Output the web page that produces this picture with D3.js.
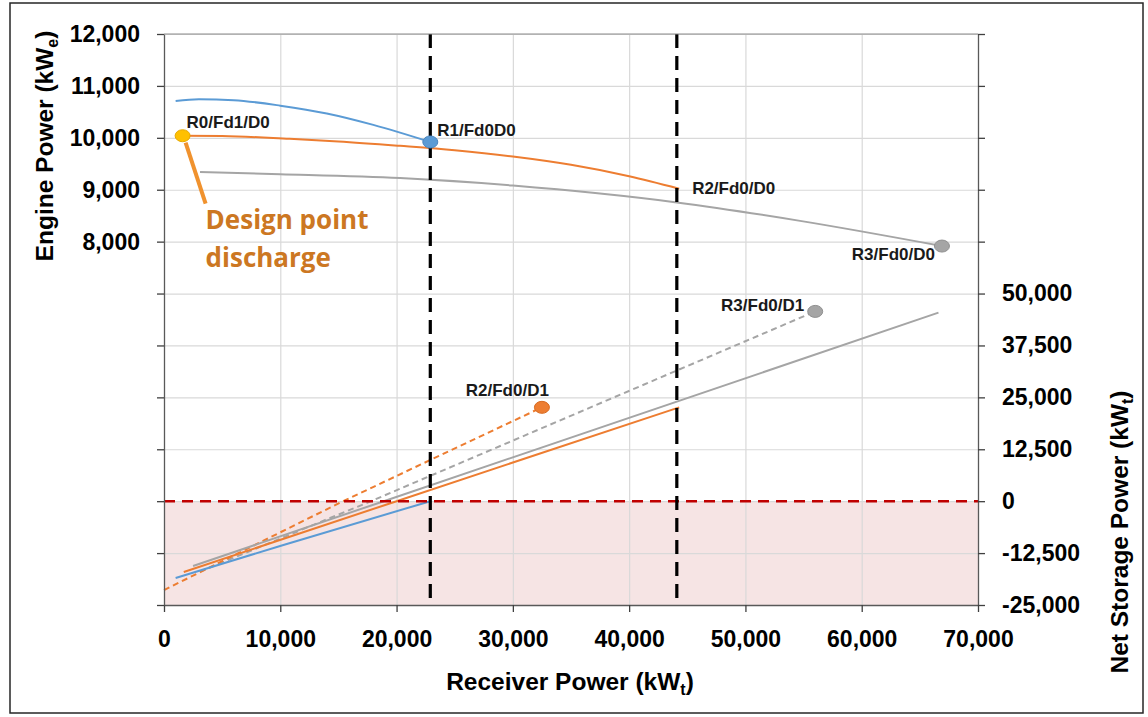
<!DOCTYPE html>
<html>
<head>
<meta charset="utf-8">
<script src="https://cdn.jsdelivr.net/npm/d3@7"></script>
<style>
  body { margin: 0; background: #fff; }
  svg { font-family: "Liberation Sans", Arial, sans-serif; }
</style>
</head>
<body>
<svg id="chart" width="1148" height="717"></svg>
<script>
// ticks
const receiverTicks = [0, 10000, 20000, 30000, 40000, 50000, 60000, 70000];
const engineTicks = [1000, 2000, 3000, 4000, 5000, 6000, 7000, 8000, 9000, 10000, 11000, 12000];
const engineLabelled = [8000, 9000, 10000, 11000, 12000];
const storageTicks = [-25000, -12500, 0, 12500, 25000, 37500, 50000, 62500, 75000, 87500, 100000, 112500];
const storageLabelled = [-25000, -12500, 0, 12500, 25000, 37500, 50000];

// engine power (kWe) against receiver power (kWt)
const engineR1 = [[1000, 10710], [3000, 10745], [6000, 10725], [10000, 10620], [14000, 10470], [18000, 10250], [22900, 9920]];
const engineR2 = [[1600, 10040], [5000, 10035], [10800, 9980], [15000, 9930], [20300, 9845], [25000, 9760], [30000, 9640], [35000, 9480], [40000, 9260], [44300, 9020]];
const engineR3 = [[3100, 9340], [10000, 9300], [20300, 9225], [30000, 9080], [44100, 8755], [54700, 8400], [66900, 7915]];

// net storage power (kWt) against receiver power (kWt)
const storageR1 = [[1000, -18500], [10200, -10600], [22900, 0]];
const storageR2 = [[1700, -17050], [20000, 0], [44300, 22600]];
const storageR3 = [[2500, -15600], [18900, 0], [66600, 45400]];
const storageR2D1 = [[0, -21400], [15400, 0], [32500, 22600]];
const storageR3D1 = [[3100, -16950], [17800, 0], [56000, 45700]];

// receiver power limits (vertical dashed lines)
const receiverLimits = [22900, 44100];

// labelled operating points
const pointNames = ["R0/Fd1/D0", "R1/Fd0D0", "R2/Fd0/D0", "R3/Fd0/D0", "R3/Fd0/D1", "R2/Fd0/D1"];
const pointReceiver = [1600, 22900, 44300, 66900, 56000, 32500];
const pointValue = [10040, 9920, 9020, 7915, 45700, 22600];
const pointAxis = ["engine", "engine", "engine", "engine", "storage", "storage"];

const drawChart = () => {
    const svg = d3.select("#chart");

    const left = 164, right = 978, top = 34, bottom = 605;

    const x = d3.scaleLinear().domain([0, 70000]).range([left, right]);
    const yL = d3.scaleLinear().domain([1000, 12000]).range([bottom, top]);
    const yR = d3.scaleLinear().domain([-25000, 112500]).range([bottom, top]);

    // outer frame
    svg.append("rect")
        .attr("x", 10).attr("y", 3)
        .attr("width", 1133).attr("height", 710)
        .attr("fill", "#fff")
        .attr("stroke", "#262626")
        .attr("stroke-width", 1.5);

    // negative storage zone
    svg.append("rect")
        .attr("x", left)
        .attr("y", yR(0))
        .attr("width", right - left)
        .attr("height", yR(-25000) - yR(0))
        .attr("fill", "#f6e4e4");

    // gridlines
    svg.append("g")
        .attr("transform", `translate(0,${bottom})`)
        .call(d3.axisBottom(x).tickValues(receiverTicks.slice(1, -1)).tickSize(-(bottom - top)).tickFormat(""))
        .call(g => g.select(".domain").remove())
        .selectAll("line").attr("stroke", "#d9d9d9").attr("stroke-width", 1.2);

    svg.append("g")
        .attr("transform", `translate(${left},0)`)
        .call(d3.axisLeft(yL).tickValues(engineTicks).tickSize(-(right - left)).tickFormat(""))
        .call(g => g.select(".domain").remove())
        .selectAll("line").attr("stroke", "#d9d9d9").attr("stroke-width", 1.2);

    // lines
    const upper = d3.line().x(d => x(d[0])).y(d => yL(d[1])).curve(d3.curveMonotoneX);
    const lower = d3.line().x(d => x(d[0])).y(d => yR(d[1]));

    const series = [
        { data: engineR3, gen: upper, color: "#a5a5a5", dash: null },
        { data: engineR2, gen: upper, color: "#ed7d31", dash: null },
        { data: engineR1, gen: upper, color: "#5b9bd5", dash: null },
        { data: storageR3D1, gen: lower, color: "#a5a5a5", dash: "6,4" },
        { data: storageR2D1, gen: lower, color: "#ed7d31", dash: "6,4" },
        { data: storageR3, gen: lower, color: "#a5a5a5", dash: null },
        { data: storageR2, gen: lower, color: "#ed7d31", dash: null },
        { data: storageR1, gen: lower, color: "#5b9bd5", dash: null }
    ];

    series.forEach(s => {
        svg.append("path")
            .datum(s.data)
            .attr("fill", "none")
            .attr("stroke", s.color)
            .attr("stroke-width", 2)
            .attr("stroke-dasharray", s.dash)
            .attr("d", s.gen);
    });

    // zero storage line
    svg.append("line")
        .attr("x1", left).attr("x2", right)
        .attr("y1", yR(0)).attr("y2", yR(0))
        .attr("stroke", "#c00000")
        .attr("stroke-width", 2.5)
        .attr("stroke-dasharray", "11,7");

    // receiver limits
    svg.selectAll(".limit")
        .data(receiverLimits)
        .enter()
        .append("line")
        .attr("class", "limit")
        .attr("x1", d => x(d)).attr("x2", d => x(d))
        .attr("y1", top).attr("y2", bottom)
        .attr("stroke", "#000")
        .attr("stroke-width", 3.2)
        .attr("stroke-dasharray", "14,8");

    // axes
    const fmt = v => d3.format(",")(v).replace("\u2212", "-");
    const styleAxis = g => {
        g.select(".domain").attr("stroke", "#595959").attr("stroke-width", 1.3);
        g.selectAll(".tick line").attr("stroke", "#404040").attr("stroke-width", 1.3);
        g.selectAll("text")
            .attr("fill", "#000")
            .attr("font-size", "23px")
            .attr("font-weight", "bold");
    };

    svg.append("g")
        .attr("transform", `translate(0,${bottom})`)
        .call(d3.axisBottom(x).tickValues(receiverTicks).tickSize(7).tickSizeOuter(0).tickPadding(19).tickFormat(fmt))
        .call(styleAxis);

    svg.append("g")
        .attr("transform", `translate(${left},0)`)
        .call(d3.axisLeft(yL).tickValues(engineTicks).tickSize(7).tickSizeOuter(0).tickPadding(17)
            .tickFormat(d => engineLabelled.includes(d) ? fmt(d) : ""))
        .call(styleAxis);

    svg.append("g")
        .attr("transform", `translate(${right},0)`)
        .call(d3.axisRight(yR).tickValues(storageTicks).tickSize(7).tickSizeOuter(0).tickPadding(17)
            .tickFormat(d => storageLabelled.includes(d) ? fmt(d) : ""))
        .call(styleAxis);

    // top edge
    svg.append("line")
        .attr("x1", left).attr("x2", right)
        .attr("y1", top).attr("y2", top)
        .attr("stroke", "#8c8c8c")
        .attr("stroke-width", 1.2);

    // axis titles
    const title = (parts, attrs) => {
        const t = svg.append("text")
            .attr("font-size", "24.5px")
            .attr("font-weight", "bold")
            .attr("fill", "#000")
            .attr("text-anchor", "middle");
        Object.entries(attrs).forEach(([k, v]) => t.attr(k, v));
        t.append("tspan").text(parts[0]);
        t.append("tspan").attr("font-size", "16px").attr("dy", 5).text(parts[1]);
        t.append("tspan").attr("dy", -5).text(parts[2]);
    };

    title(["Receiver Power (kW", "t", ")"], { x: 570, y: 690 });
    title(["Engine Power (kW", "e", ")"], { transform: "translate(53,146) rotate(-90)" });
    title(["Net Storage Power (kW", "t", ")"], { transform: "translate(1128,532) rotate(-90)" });

    // design point pointer
    const r0x = x(pointReceiver[0]), r0y = yL(pointValue[0]);
    svg.append("line")
        .attr("x1", r0x + 3).attr("y1", r0y + 7)
        .attr("x2", r0x + 23).attr("y2", r0y + 68)
        .attr("stroke", "#f0922e")
        .attr("stroke-width", 4);

    svg.append("text")
        .attr("x", r0x + 23)
        .attr("y", r0y + 93)
        .attr("font-family", "'Open Sans', sans-serif")
        .attr("font-size", "26px")
        .attr("font-weight", "bold")
        .attr("fill", "#cc7722")
        .selectAll("tspan")
        .data(["Design point", "discharge"])
        .enter()
        .append("tspan")
        .attr("x", r0x + 23)
        .attr("dy", (d, i) => i ? 38 : 0)
        .text(d => d);

    // markers and labels
    const markerColor = ["#ffc000", "#5b9bd5", null, "#a5a5a5", "#a5a5a5", "#ed7d31"];
    const markerStroke = ["#e6a800", "#4a86c0", null, "#8f8f8f", "#8f8f8f", "#d86a20"];
    const labelAnchor = ["start", "start", "start", "end", "end", "end"];
    const labelDx = [4, 7, 13, -7, -11, 7];
    const labelDy = [-8, -6, 5, 14, 0, -11];

    pointNames.forEach((name, i) => {
        const px = x(pointReceiver[i]);
        const py = pointAxis[i] === "engine" ? yL(pointValue[i]) : yR(pointValue[i]);
        if (markerColor[i]) {
            svg.append("ellipse")
                .attr("cx", px).attr("cy", py)
                .attr("rx", 7.5).attr("ry", 6)
                .attr("fill", markerColor[i])
                .attr("stroke", markerStroke[i])
                .attr("stroke-width", 1);
        }
        svg.append("text")
            .attr("x", px + labelDx[i])
            .attr("y", py + labelDy[i])
            .attr("text-anchor", labelAnchor[i])
            .attr("font-size", "17px")
            .attr("font-weight", "bold")
            .attr("fill", "#1a1a1a")
            .text(name);
    });
};

drawChart();
</script>
</body>
</html>
